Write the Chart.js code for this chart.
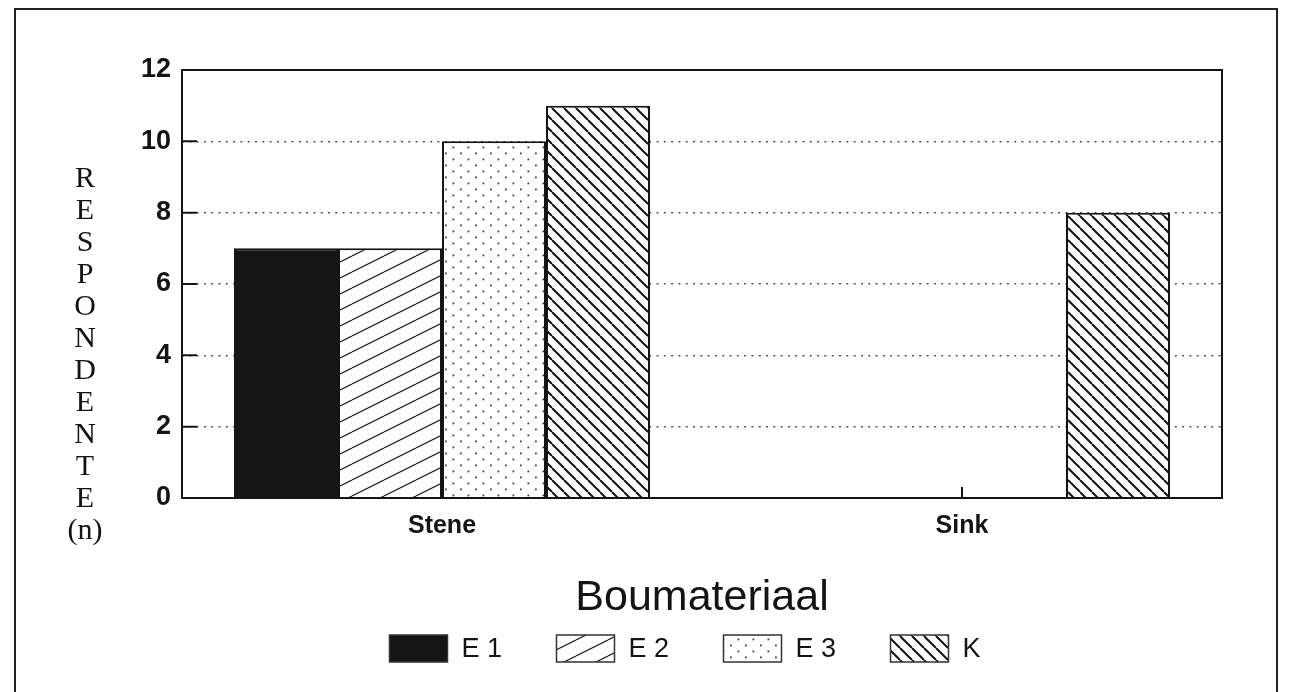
<!DOCTYPE html>
<html>
<head>
<meta charset="utf-8">
<script src="https://cdn.jsdelivr.net/npm/chart.js@4.4.0/dist/chart.umd.min.js"></script>
<style>
  html, body { margin: 0; padding: 0; background: #fff; }
  #wrap { position: relative; width: 1289px; height: 692px; }
</style>
</head>
<body>
<div id="wrap"><canvas id="chart" width="1289" height="692"></canvas></div>
<script>
// Data
const categories = ["Stene", "Sink"];
const seriesLabels = ["E 1", "E 2", "E 3", "K"];
const valuesE1 = [7, 0];
const valuesE2 = [7, 0];
const valuesE3 = [10, 0];
const valuesK = [11, 8];
const yTitleLetters = ["R", "E", "S", "P", "O", "N", "D", "E", "N", "T", "E", "(n)"];
const xTitle = "Boumateriaal";

const SANS = '"Liberation Sans", Arial, Helvetica, sans-serif';
const SERIF = '"Liberation Serif", "Times New Roman", serif';
const INK = "#141414";

function makePattern(w, h, draw) {
  const c = document.createElement("canvas");
  c.width = w;
  c.height = h;
  const g = c.getContext("2d");
  g.fillStyle = "#fff";
  g.fillRect(0, 0, w, h);
  draw(g, w, h);
  return g.createPattern(c, "repeat");
}

// "/" hatch, shallow
const hatchE2 = makePattern(32, 16, (g, w, h) => {
  g.strokeStyle = "#222";
  g.lineWidth = 1.2;
  g.beginPath();
  [-h, 0, h].forEach(o => { g.moveTo(0, h + o); g.lineTo(w, o); });
  g.stroke();
});

// sparse dots
const dotsE3 = makePattern(15, 12, (g) => {
  g.fillStyle = "#444";
  g.fillRect(2.5, 2.5, 1.8, 1.8);
  g.fillRect(10, 8.5, 1.8, 1.8);
});

// "\" hatch, 45 degrees
const hatchK = makePattern(12, 12, (g, w, h) => {
  g.strokeStyle = "#111";
  g.lineWidth = 2;
  g.beginPath();
  [-w, 0, w].forEach(o => { g.moveTo(o, 0); g.lineTo(o + w, h); });
  g.stroke();
});

const fills = [INK, hatchE2, dotsE3, hatchK];

const decor = {
  id: "decor",
  beforeDraw(chart) {
    const ctx = chart.ctx;
    ctx.save();
    ctx.fillStyle = "#fff";
    ctx.fillRect(0, 0, chart.width, chart.height);
    // outer page frame
    ctx.strokeStyle = "#222";
    ctx.lineWidth = 2;
    ctx.beginPath();
    ctx.moveTo(15, chart.height);
    ctx.lineTo(15, 9);
    ctx.lineTo(1277, 9);
    ctx.lineTo(1277, chart.height);
    ctx.stroke();
    ctx.restore();
  },
  beforeDatasetsDraw(chart) {
    const ctx = chart.ctx, a = chart.chartArea;
    const y = chart.scales.y, x = chart.scales.x;
    ctx.save();
    ctx.strokeStyle = INK;
    ctx.lineWidth = 2;
    ctx.beginPath();
    y.ticks.forEach(t => {
      const py = y.getPixelForValue(t.value);
      ctx.moveTo(a.left, py);
      ctx.lineTo(a.left + 15, py);
    });
    x.ticks.forEach((t, i) => {
      const px = x.getPixelForTick(i);
      ctx.moveTo(px, a.bottom);
      ctx.lineTo(px, a.bottom - 11);
    });
    ctx.stroke();
    ctx.restore();
  },
  afterDatasetsDraw(chart) {
    const ctx = chart.ctx, a = chart.chartArea;
    ctx.save();
    ctx.strokeStyle = INK;
    ctx.lineWidth = 2;
    ctx.strokeRect(a.left, a.top, a.right - a.left, a.bottom - a.top);
    ctx.restore();
  },
  afterDraw(chart) {
    const ctx = chart.ctx, a = chart.chartArea;
    ctx.save();
    // stacked y title
    ctx.fillStyle = INK;
    ctx.font = "30px " + SERIF;
    ctx.textAlign = "center";
    ctx.textBaseline = "middle";
    yTitleLetters.forEach((ch, i) => ctx.fillText(ch, 85, a.top + 109 + i * 32));

    // legend
    const boxW = 58, boxH = 27, slot = 167, gap = 14;
    ctx.font = "27px " + SANS;
    const lastW = ctx.measureText(seriesLabels[seriesLabels.length - 1]).width;
    const total = slot * (seriesLabels.length - 1) + boxW + gap + lastW;
    const cx = (a.left + a.right) / 2 - 17;
    let lx = cx - total / 2;
    const ly = 635;
    ctx.textAlign = "left";
    chart.data.datasets.forEach((ds, i) => {
      ctx.fillStyle = ds.backgroundColor;
      ctx.fillRect(lx, ly, boxW, boxH);
      ctx.strokeStyle = "#333";
      ctx.lineWidth = 1.5;
      ctx.strokeRect(lx, ly, boxW, boxH);
      ctx.fillStyle = INK;
      ctx.fillText(ds.label, lx + boxW + gap, ly + boxH / 2 + 1);
      lx += slot;
    });
    ctx.restore();
  }
};

const datasets = [valuesE1, valuesE2, valuesE3, valuesK].map((vals, i) => ({
  label: seriesLabels[i],
  data: vals,
  backgroundColor: fills[i],
  borderColor: INK,
  borderWidth: 2
}));

new Chart(document.getElementById("chart"), {
  type: "bar",
  data: { labels: categories, datasets: datasets },
  options: {
    responsive: false,
    animation: false,
    layout: { padding: { left: 0, right: 67, top: 70, bottom: 0 } },
    datasets: { bar: { categoryPercentage: 0.8, barPercentage: 1 } },
    plugins: { legend: { display: false }, tooltip: { enabled: false } },
    scales: {
      x: {
        grid: { display: false, drawTicks: false },
        border: { display: false },
        ticks: { color: INK, padding: 13, font: { family: SANS, size: 25, weight: "bold" } },
        title: {
          display: true, text: xTitle, color: INK,
          font: { family: SANS, size: 43 },
          padding: { top: 0, bottom: 68 }
        },
        afterFit(s) { s.height = 194; }
      },
      y: {
        min: 0, max: 12,
        grid: { color: "#555", lineWidth: 1.5, drawTicks: false },
        border: { display: false, dash: [2, 5.3] },
        ticks: { stepSize: 2, color: INK, padding: 11, font: { family: SANS, size: 27, weight: "bold" } },
        afterFit(s) { s.width = 182; }
      }
    }
  },
  plugins: [decor]
});
</script>
</body>
</html>
